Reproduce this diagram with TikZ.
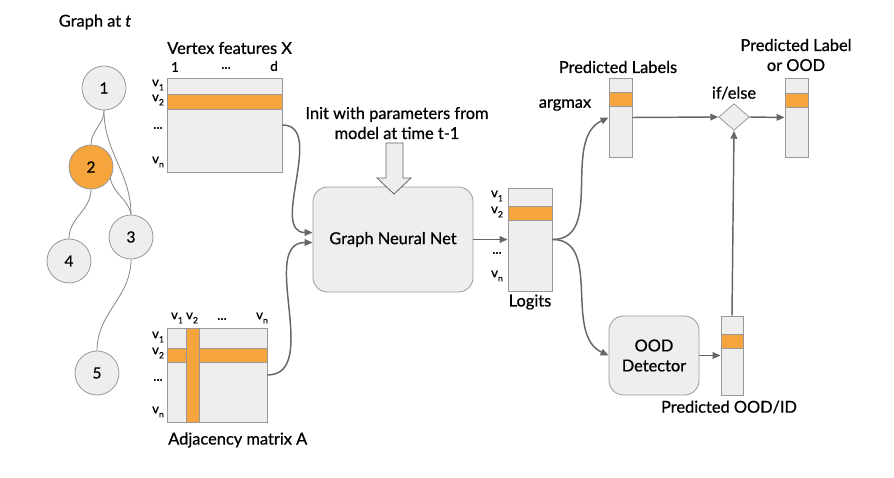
\documentclass[tikz,border=0pt]{standalone}
\usepackage{fontspec}
\setmainfont{Lato}[FakeBold=0.7]
\usetikzlibrary{fit,shapes.geometric,arrows.meta,calc}
\definecolor{lgray}{HTML}{EEEEEE}
\definecolor{bgray}{HTML}{999999}
\definecolor{agray}{HTML}{666666}
\definecolor{orng}{HTML}{F6A43C}
\newcommand{\vsub}[1]{v\raisebox{-0.6ex}{\fontsize{6.5}{6.5}\selectfont #1}}
\tikzset{
  circ/.style={circle, draw=bgray, fill=lgray, line width=0.6pt, minimum size=33pt, inner sep=0pt, font=\fontsize{11.5}{13}\selectfont},
  mat/.style={draw=bgray, fill=lgray, line width=0.6pt, inner sep=0pt},
  stripe/.style={draw=bgray, fill=orng, line width=0.6pt, inner sep=0pt},
  box/.style={draw=bgray, fill=lgray, line width=0.6pt, rounded corners=11pt, inner sep=0pt, align=center},
  title/.style={font=\fontsize{12.3}{15}\selectfont, align=center, inner sep=0pt},
  small/.style={font=\fontsize{10}{10}\selectfont, inner sep=0pt},
  edge/.style={draw=agray!80, line width=0.6pt},
  conn/.style={draw=agray, line width=1.1pt, -{Triangle[length=6pt,width=5pt]}},
}
\begin{document}
\begin{tikzpicture}[x=0.75pt,y=-0.75pt]
\useasboundingbox (0,0) rectangle (894,478);

% graph
\node[title] (gt) at (95,22) {Graph at \textit{t}};
\node[circ] (n1) at (104,88) {1};
\node[circ, fill=orng] (n2) at (91,167) {2};
\node[circ] (n3) at (131,237) {3};
\node[circ] (n4) at (69,261) {4};
\node[circ] (n5) at (97,373) {5};
\draw[edge] (n1.south) to[out=-90,in=90] (n2.north);
\draw[edge] (n1.south) to[out=-90,in=90] (n3.north);
\draw[edge] (n2.-30) to[out=-80,in=100] (n3.north);
\draw[edge] (n2.south) to[out=-90,in=90] (n4.north);
\draw[edge] (n3.south) to[out=-90,in=90] (n5.north);

% vertex features
\node[title, anchor=west] (xt) at (167,48) {Vertex features X};
\node[mat, fit={(167,78)(282,172)}] (X) {};
\node[stripe, fit={(167,94)(282,109)}] (Xs) {};
\node[small] (xc1) at (175,67) {1};
\node[small] (xc2) at (226,68) {...};
\node[small] (xc3) at (274,66) {d};
\node[small] (xr1) at (158,85) {\vsub{1}};
\node[small] (xr2) at (158,100) {\vsub{2}};
\node[small] (xr3) at (158,128) {...};
\node[small] (xr4) at (158,162) {\vsub{n}};

% adjacency
\node[mat, fit={(167,328)(267,422)}] (A) {};
\node[stripe, fit={(167,348)(267,362)}] (Ah) {};
\node[stripe, fit={(186,328)(199,422)}] (Av) {};
\node[small] (ac1) at (177,318) {\vsub{1}};
\node[small] (ac2) at (192,318) {\vsub{2}};
\node[small] (ac3) at (222,319) {...};
\node[small] (ac4) at (262,318) {\vsub{n}};
\node[small] (ar1) at (158,337) {\vsub{1}};
\node[small] (ar2) at (158,353) {\vsub{2}};
\node[small] (ar3) at (158,380) {...};
\node[small] (ar4) at (158,412) {\vsub{n}};
\node[title, anchor=west] (at) at (168,440) {Adjacency matrix A};

% GNN
\node[box, fit={(313,187)(473,292)}] (G) {};
\node[title] (gl) at (G.center) {Graph Neural Net};
\node[title] (init) at (397,123) {Init with parameters from\\model at time t-1};
\draw[draw=agray, fill=lgray, line width=0.6pt] (386,143) -- (403,143) -- (403,178) -- (411,178) -- (394,194) -- (377,178) -- (386,178) -- cycle;

% logits
\node[mat, fit={(508,188)(552,291)}] (L) {};
\node[stripe, fit={(508,206)(552,220)}] (Ls) {};
\node[small] (lr1) at (497,196) {\vsub{1}};
\node[small] (lr2) at (497,212) {\vsub{2}};
\node[small] (lr3) at (497,253) {...};
\node[small] (lr4) at (497,276) {\vsub{n}};
\node[title] (lt) at (530,302) {Logits};

% predicted labels
\node[mat, fit={(609,78)(632,157)}] (P) {};
\node[stripe, fit={(609,92)(632,106)}] (Ps) {};
\node[title] (pt) at (618,67) {Predicted Labels};
\node[title] (am) at (565,105) {argmax};

% diamond
\node[diamond, draw=bgray, fill=lgray, line width=0.6pt, minimum width=23pt, minimum height=20pt, inner sep=0pt] (D) at (734,117) {};
\node[title] (ie) at (734,93) {if/else};

% output
\node[mat, fit={(785,78)(808,157)}] (O) {};
\node[stripe, fit={(785,93)(808,107)}] (Os) {};
\node[title] (ot) at (796,55) {Predicted Label\\or OOD};

% OOD detector
\node[box, fit={(609,316)(699,395)}] (OD) {};
\node[title] (odl) at (OD.center) {OOD\\Detector};
\node[mat, fit={(721,316)(743,395)}] (Q) {};
\node[stripe, fit={(721,334)(743,348)}] (Qs) {};
\node[title] (qt) at (729,407) {Predicted OOD/ID};

% connectors
\draw[conn] (X.east) to[out=0,in=180] ($(G.west)+(0,-7)$);
\draw[conn] (A.east) to[out=0,in=180] ($(G.west)+(0,3)$);
\draw[conn] (G.east) -- (L.west |- G.east);
\draw[conn] (L.east) to[out=0,in=205] (P.west);
\draw[conn] (L.east) to[out=0,in=155] (OD.west);
\draw[conn] (P.east) -- (D.west);
\draw[conn] (D.east) -- (O.west);
\draw[conn] (OD.east) -- (Q.west);
\draw[conn] (Q.north) -- (D.south);
\end{tikzpicture}
\end{document}
